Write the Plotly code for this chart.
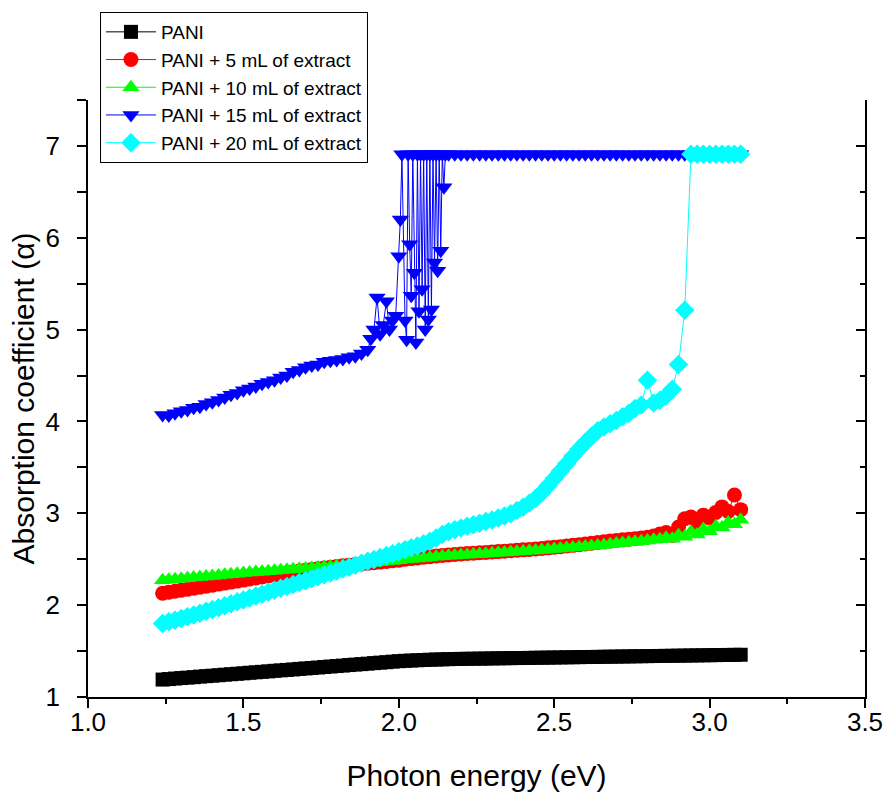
import plotly.graph_objects as go

# ---------------- data ----------------
ENERGY = [1.24, 1.26, 1.28, 1.30, 1.32, 1.34, 1.36, 1.38, 1.40, 1.42, 1.44, 1.46, 1.48, 1.50,
          1.52, 1.54, 1.56, 1.58, 1.60, 1.62, 1.64, 1.66, 1.68, 1.70, 1.72, 1.74, 1.76, 1.78,
          1.80, 1.82, 1.84, 1.86, 1.88, 1.90, 1.92, 1.94, 1.96, 1.98, 2.00, 2.02, 2.04, 2.06,
          2.08, 2.10, 2.12, 2.14, 2.16, 2.18, 2.20, 2.22, 2.24, 2.26, 2.28, 2.30, 2.32, 2.34,
          2.36, 2.38, 2.40, 2.42, 2.44, 2.46, 2.48, 2.50, 2.52, 2.54, 2.56, 2.58, 2.60, 2.62,
          2.64, 2.66, 2.68, 2.70, 2.72, 2.74, 2.76, 2.78, 2.80, 2.82, 2.84, 2.86, 2.88, 2.90,
          2.92, 2.94, 2.96, 2.98, 3.00, 3.02, 3.04, 3.06, 3.08, 3.10]

PANI = [1.190, 1.195, 1.201, 1.206, 1.211, 1.216, 1.222, 1.227, 1.232, 1.237, 1.243, 1.248, 1.253, 1.258,
        1.264, 1.269, 1.274, 1.279, 1.285, 1.290, 1.295, 1.300, 1.306, 1.311, 1.316, 1.321, 1.327, 1.332,
        1.337, 1.342, 1.348, 1.353, 1.358, 1.363, 1.369, 1.374, 1.379, 1.385, 1.390, 1.394, 1.397, 1.400,
        1.403, 1.406, 1.408, 1.410, 1.412, 1.414, 1.415, 1.416, 1.417, 1.418, 1.419, 1.420, 1.421, 1.422,
        1.423, 1.424, 1.425, 1.426, 1.427, 1.428, 1.429, 1.430, 1.431, 1.432, 1.433, 1.434, 1.435, 1.436,
        1.437, 1.438, 1.439, 1.440, 1.441, 1.442, 1.443, 1.444, 1.445, 1.446, 1.447, 1.448, 1.449, 1.450,
        1.451, 1.452, 1.453, 1.454, 1.455, 1.456, 1.457, 1.458, 1.459, 1.460]

PANI_5 = [2.130, 2.141, 2.152, 2.163, 2.174, 2.185, 2.196, 2.207, 2.218, 2.229, 2.240, 2.251, 2.262, 2.273,
          2.284, 2.295, 2.306, 2.317, 2.328, 2.339, 2.350, 2.361, 2.372, 2.381, 2.389, 2.397, 2.405, 2.413,
          2.421, 2.428, 2.435, 2.442, 2.449, 2.456, 2.463, 2.469, 2.476, 2.483, 2.490, 2.500, 2.507, 2.514,
          2.521, 2.528, 2.535, 2.541, 2.547, 2.552, 2.557, 2.562, 2.566, 2.570, 2.574, 2.579, 2.583, 2.587,
          2.592, 2.597, 2.602, 2.607, 2.612, 2.618, 2.624, 2.630, 2.637, 2.644, 2.651, 2.658, 2.666, 2.674,
          2.682, 2.690, 2.698, 2.705, 2.712, 2.718, 2.724, 2.732, 2.740, 2.752, 2.775, 2.790, 2.760, 2.850,
          2.940, 2.960, 2.900, 2.980, 2.950, 3.010, 3.070, 3.020, 3.200, 3.040]

PANI_10 = [2.270, 2.276, 2.282, 2.288, 2.294, 2.300, 2.306, 2.312, 2.318, 2.324, 2.330, 2.336, 2.342, 2.349,
           2.355, 2.360, 2.365, 2.370, 2.375, 2.380, 2.385, 2.390, 2.395, 2.400, 2.405, 2.410, 2.415, 2.420,
           2.425, 2.430, 2.435, 2.440, 2.445, 2.450, 2.458, 2.466, 2.474, 2.482, 2.490, 2.496, 2.502, 2.508,
           2.514, 2.520, 2.526, 2.532, 2.537, 2.541, 2.545, 2.549, 2.553, 2.557, 2.561, 2.566, 2.570, 2.574,
           2.578, 2.582, 2.587, 2.591, 2.596, 2.600, 2.605, 2.611, 2.616, 2.622, 2.627, 2.633, 2.638, 2.644,
           2.650, 2.656, 2.663, 2.670, 2.677, 2.684, 2.690, 2.697, 2.704, 2.711, 2.718, 2.735, 2.722, 2.760,
           2.745, 2.800, 2.770, 2.830, 2.805, 2.860, 2.845, 2.900, 2.880, 2.930]

PANI_20 = [1.800, 1.818, 1.836, 1.855, 1.874, 1.893, 1.913, 1.933, 1.953, 1.973, 1.994, 2.015, 2.036, 2.057,
           2.078, 2.099, 2.120, 2.141, 2.162, 2.183, 2.204, 2.225, 2.246, 2.267, 2.288, 2.309, 2.330, 2.351,
           2.372, 2.393, 2.414, 2.435, 2.456, 2.477, 2.498, 2.519, 2.540, 2.561, 2.582, 2.603, 2.624, 2.645,
           2.668, 2.695, 2.730, 2.770, 2.800, 2.820, 2.840, 2.858, 2.876, 2.893, 2.910, 2.928, 2.948, 2.970,
           2.995, 3.030, 3.065, 3.110, 3.160, 3.225, 3.300, 3.380, 3.460, 3.540, 3.620, 3.700, 3.770, 3.840,
           3.900, 3.940, 3.975, 4.010, 4.050, 4.090, 4.140, 4.180, 4.450, 4.200, 4.230, 4.280, 4.350, 4.620,
           5.210, 6.910, 6.910, 6.910, 6.910, 6.910, 6.910, 6.910, 6.910, 6.910]

ENERGY_15 = [1.24, 1.26, 1.28, 1.30, 1.32, 1.34, 1.36, 1.38, 1.40, 1.42, 1.44, 1.46, 1.48, 1.50,
             1.52, 1.54, 1.56, 1.58, 1.60, 1.62, 1.64, 1.66, 1.68, 1.70, 1.72, 1.74, 1.76, 1.78,
             1.80, 1.82, 1.84, 1.86, 1.88, 1.90, 1.91, 1.92, 1.93, 1.94, 1.95, 1.96, 1.97, 1.98,
             1.99, 2.00, 2.005, 2.01, 2.02, 2.025, 2.03, 2.035, 2.04, 2.045, 2.05, 2.055, 2.06,
             2.065, 2.07, 2.075, 2.08, 2.085, 2.09, 2.095, 2.10, 2.105, 2.11, 2.115, 2.12, 2.125,
             2.13, 2.135, 2.14, 2.145, 2.15, 2.16, 2.18, 2.20, 2.22, 2.24, 2.26, 2.28, 2.30, 2.32,
             2.34, 2.36, 2.38, 2.40, 2.42, 2.44, 2.46, 2.48, 2.50, 2.52, 2.54, 2.56, 2.58, 2.60,
             2.62, 2.64, 2.66, 2.68, 2.70, 2.72, 2.74, 2.76, 2.78, 2.80, 2.82, 2.84, 2.86, 2.88,
             2.90, 2.92, 2.94, 2.96, 2.98, 3.00, 3.02, 3.04, 3.06, 3.08, 3.10]

PANI_15 = [4.070, 4.065, 4.090, 4.110, 4.125, 4.150, 4.160, 4.190, 4.210, 4.235, 4.260, 4.290, 4.310, 4.340,
           4.360, 4.380, 4.410, 4.430, 4.450, 4.480, 4.500, 4.540, 4.560, 4.590, 4.610, 4.620, 4.650, 4.660,
           4.670, 4.680, 4.700, 4.710, 4.740, 4.780, 4.900, 5.000, 5.350, 4.950, 5.050, 5.310, 5.000, 5.100,
           5.150, 5.800, 6.200, 6.910, 5.100, 4.890, 6.910, 5.930, 5.370, 6.910, 5.620, 4.860, 6.910,
           5.200, 6.910, 5.440, 6.910, 5.000, 6.910, 5.110, 6.910, 5.220, 6.910, 5.730, 6.910, 5.640,
           6.910, 5.860, 6.910, 6.550, 6.910, 6.910, 6.910, 6.910, 6.910, 6.910, 6.910, 6.910, 6.910, 6.910,
           6.910, 6.910, 6.910, 6.910, 6.910, 6.910, 6.910, 6.910, 6.910, 6.910, 6.910, 6.910, 6.910, 6.910,
           6.910, 6.910, 6.910, 6.910, 6.910, 6.910, 6.910, 6.910, 6.910, 6.910, 6.910, 6.910, 6.910, 6.910,
           6.910, 6.910, 6.910, 6.910, 6.910, 6.910, 6.910, 6.910, 6.910, 6.910, 6.910]

NAMES = ["PANI", "PANI + 5 mL of extract", "PANI + 10 mL of extract",
         "PANI + 15 mL of extract", "PANI + 20 mL of extract"]
COLORS = ["#000000", "#FF0000", "#00FF00", "#0000FF", "#00FFFF"]
SYMBOLS = ["square", "circle", "triangle-up", "triangle-down", "diamond"]
SIZES = [14, 15, 15, 15, 15]

X_TICKS = [1.0, 1.5, 2.0, 2.5, 3.0, 3.5]
Y_TICKS = [1, 2, 3, 4, 5, 6, 7]

series = [(ENERGY, PANI), (ENERGY, PANI_5), (ENERGY, PANI_10), (ENERGY_15, PANI_15), (ENERGY, PANI_20)]

FONT = "Arial, Liberation Sans, sans-serif"

fig = go.Figure()
for (xs, ys), name, col, sym, sz in zip(series, NAMES, COLORS, SYMBOLS, SIZES):
    fig.add_trace(go.Scatter(
        x=xs, y=ys, name=name, mode="lines+markers",
        line=dict(color=col, width=1),
        marker=dict(symbol=sym, size=sz, color=col, line=dict(width=0)),
        cliponaxis=False,
    ))

# invisible trace for the right-hand axis
fig.add_trace(go.Scatter(x=[None], y=[None], yaxis="y2", showlegend=False, hoverinfo="skip"))

axis_common = dict(showline=True, linecolor="black", linewidth=1.5, showgrid=False,
                   zeroline=False, tickcolor="black", tickwidth=1.5, automargin=False)

fig.update_layout(
    width=888, height=794,
    margin=dict(l=88, r=23, t=100, b=97, autoexpand=False),
    paper_bgcolor="white", plot_bgcolor="white",
    font=dict(family=FONT, color="black"),
    showlegend=True,
    legend=dict(x=0.0154, y=1.1474, xanchor="left", yanchor="top",
                bordercolor="black", borderwidth=1, bgcolor="white",
                font=dict(size=19, family=FONT, color="black"),
                itemwidth=50, tracegroupgap=0),
    xaxis=dict(range=[1.0, 3.5], tickvals=X_TICKS, ticktext=[f"{v:.1f}" for v in X_TICKS],
               ticks="outside", ticklen=9, ticklabelstandoff=-8,
               minor=dict(dtick=0.25, ticks="outside", ticklen=5, tickcolor="black", tickwidth=1.5),
               tickfont=dict(size=26),
               title=dict(text="Photon energy (eV)", font=dict(size=30), standoff=29),
               **axis_common),
    yaxis=dict(range=[1.0, 7.5], tickvals=Y_TICKS, ticks="outside", ticklen=9, ticklabelstandoff=12,
               minor=dict(dtick=0.5, ticks="outside", ticklen=9, tickcolor="black", tickwidth=1.5),
               tickfont=dict(size=26),
               title=dict(text="Absorption coefficient (α)", font=dict(size=30), standoff=2),
               **axis_common),
    yaxis2=dict(range=[1.0, 7.5], overlaying="y", side="right", anchor="x",
                tickvals=Y_TICKS, ticks="inside", ticklen=9, showticklabels=False,
                minor=dict(dtick=0.5, ticks="inside", ticklen=5, tickcolor="black", tickwidth=1.5),
                **axis_common),
    hovermode=False,
)

fig.write_html("out.html", config={"displayModeBar": False},
               post_script="document.body.style.margin='0px';")
